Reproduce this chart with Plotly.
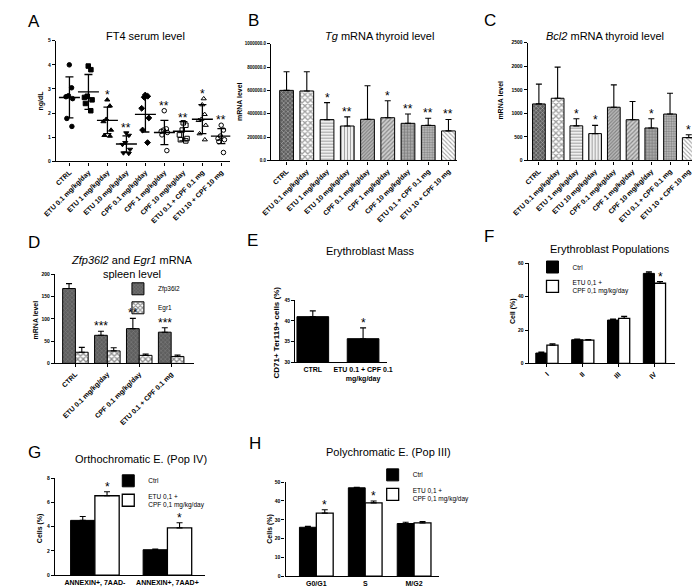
import plotly.graph_objects as go

W, H = 700, 588
FONT = "Arial, Liberation Sans, sans-serif"

# ---------------- data ----------------
treatments = ["CTRL", "ETU 0.1 mg/kg/day", "ETU 1 mg/kg/day", "ETU 10 mg/kg/day",
              "CPF 0.1 mg/kg/day", "CPF 1 mg/kg/day", "CPF 10 mg/kg/day",
              "ETU 0.1 + CPF 0.1 mg", "ETU 10 + CPF 10 mg"]

# A - FT4 serum level (ng/dL), one value per animal
ft4_points = [
    [4.0, 3.05, 2.72, 2.68, 2.6, 1.78, 1.45],
    [3.95, 3.8, 2.7, 2.65, 2.55, 2.4, 2.1],
    [2.55, 2.3, 1.75, 1.65, 1.3, 1.08, 1.05],
    [1.18, 1.08, 0.78, 0.7, 0.5, 0.35, 0.33],
    [2.75, 2.7, 2.65, 2.2, 1.8, 1.3, 0.78],
    [2.1, 1.35, 1.3, 1.25, 1.2, 1.1, 0.45],
    [1.6, 1.5, 1.3, 1.1, 0.95, 0.9, 0.85],
    [2.6, 2.35, 1.95, 1.75, 1.7, 1.5, 1.15, 0.9],
    [1.5, 1.3, 1.05, 0.95, 0.9, 0.82, 0.37],
]
ft4_mean = [2.65, 2.88, 1.7, 0.72, 1.95, 1.2, 1.25, 1.75, 1.05]
ft4_sd = [0.85, 0.72, 0.55, 0.34, 0.73, 0.5, 0.4, 0.6, 0.31]
ft4_stars = ["", "", "*", "**", "", "**", "**", "*", "**"]
ft4_symbols = ["circle", "square", "triangle-up", "triangle-down", "diamond",
               "circle-open", "square-open", "triangle-up-open", "circle-open"]

# B - Tg mRNA thyroid level
tg_mean = [600000, 595000, 350000, 295000, 352000, 366000, 318000, 300000, 253000]
tg_sd = [160000, 165000, 145000, 78000, 288000, 145000, 80000, 62000, 98000]
tg_stars = ["", "", "*", "**", "", "*", "**", "**", "**"]

# C - Bcl2 mRNA thyroid level
bcl2_mean = [1200, 1320, 735, 570, 1130, 865, 690, 985, 485]
bcl2_sd = [420, 660, 150, 175, 475, 385, 195, 440, 60]
bcl2_stars = ["", "", "*", "*", "", "", "*", "", "*"]

# D - Zfp36l2 / Egr1 mRNA spleen level
spleen_groups = ["CTRL", "ETU 0.1 mg/kg/day", "CPF 0.1 mg/kg/day", "ETU 0.1 + CPF 0.1 mg"]
zfp_mean = [168, 63, 78, 70]
zfp_sd = [11, 9, 23, 10]
zfp_stars = ["", "***", "**", "***"]
egr_mean = [25, 28, 18, 15.5]
egr_sd = [11, 7, 3, 3]

# E - Erythroblast mass
mass_groups = ["CTRL", "ETU 0.1 + CPF 0.1<br>mg/kg/day"]
mass_mean = [41.0, 35.7]
mass_sd = [1.4, 2.6]
mass_stars = ["", "*"]

# F - Erythroblast populations
pop_groups = ["I", "II", "III", "IV"]
pop_ctrl = [6.2, 14.2, 26.0, 54.0]
pop_ctrl_sd = [0.6, 0.4, 0.6, 0.9]
pop_mix = [10.9, 14.0, 27.0, 48.1]
pop_mix_sd = [0.8, 0.3, 1.2, 1.0]
pop_stars = ["", "", "", "*"]

# G - Orthochromatic E. (Pop IV)
apo_groups = ["ANNEXIN+, 7AAD-", "ANNEXIN+, 7AAD+"]
apo_ctrl = [4.52, 2.1]
apo_ctrl_sd = [0.32, 0.05]
apo_mix = [6.55, 3.9]
apo_mix_sd = [0.33, 0.42]
apo_stars = ["*", "*"]

# H - Polychromatic E. (Pop III)
cycle_groups = ["G0/G1", "S", "M/G2"]
cycle_ctrl = [26.0, 47.0, 28.0]
cycle_ctrl_sd = [0.5, 0.3, 0.7]
cycle_mix = [33.5, 39.0, 28.3]
cycle_mix_sd = [1.8, 1.0, 0.7]
cycle_stars = ["*", "*", ""]

# Prism-like hatch fills, one per treatment
fill_shape = ["x", "x", "-", "|", "/", "/", "+", ".", "\\"]
fill_fg = ["#9a9a9a", "#1a1a1a", "#6a6a6a", "#6a6a6a", "#777777", "#6e6e6e", "#2a2a2a", "#606060", "#8a8a8a"]
fill_bg = ["#5e5e5e", "#ffffff", "#ffffff", "#ffffff", "#bdbdbd", "#cfcfcf", "#a8a8a8", "#c4c4c4", "#ffffff"]
fill_size = [3, 4, 3, 3, 2.5, 3, 3, 2.5, 3]
fill_sol = [0.35, 0.55, 0.45, 0.45, 0.45, 0.4, 0.35, 0.5, 0.35]


def px(x):
    return x / W


def py(y):
    return 1 - y / H


def up_err(sd):
    # Prism style: only the upper half of the SD bar
    return dict(type="data", symmetric=False, array=sd, arrayminus=[0] * len(sd),
                width=3, thickness=1.1, color="black")


fig = go.Figure()

# ── A: scatter dot plot ──
for name, pts, sym in zip(treatments, ft4_points, ft4_symbols):
    fig.add_trace(go.Box(
        x=[name] * len(pts), y=pts, xaxis="x", yaxis="y",
        boxpoints="all", jitter=0.9, pointpos=0, width=0.55,
        fillcolor="rgba(0,0,0,0)", line=dict(width=0, color="rgba(0,0,0,0)"),
        marker=dict(symbol=sym, size=4.5, color="black", line=dict(width=1, color="black")),
        showlegend=False,
    ))
fig.add_trace(go.Scatter(
    x=treatments, y=ft4_mean, mode="markers", xaxis="x", yaxis="y",
    marker=dict(symbol="line-ew", size=15, color="black", line=dict(width=1.4, color="black")),
    error_y=dict(type="data", array=ft4_sd, width=4, thickness=1.3, color="black"),
    showlegend=False,
))

# ── B, C: hatched bars ──
for vals, sd, ax in [(tg_mean, tg_sd, "2"), (bcl2_mean, bcl2_sd, "3")]:
    fig.add_trace(go.Bar(
        x=treatments, y=vals, width=0.68, xaxis="x" + ax, yaxis="y" + ax,
        marker=dict(color=fill_bg, line=dict(color="black", width=1),
                    pattern=dict(shape=fill_shape, fgcolor=fill_fg, bgcolor=fill_bg,
                                 size=fill_size, solidity=fill_sol)),
        error_y=up_err(sd), showlegend=False,
    ))

# ── D: two genes side by side ──
d_w = 0.4
fig.add_trace(go.Bar(
    x=spleen_groups, y=zfp_mean, width=d_w, offset=-d_w, xaxis="x4", yaxis="y4",
    name="Zfp36l2", legend="legend",
    marker=dict(color=fill_bg[0], line=dict(color="black", width=1),
                pattern=dict(shape="x", fgcolor=fill_fg[0], bgcolor=fill_bg[0], size=3, solidity=0.35)),
    error_y=up_err(zfp_sd),
))
fig.add_trace(go.Bar(
    x=spleen_groups, y=egr_mean, width=d_w, offset=0, xaxis="x4", yaxis="y4",
    name="Egr1", legend="legend",
    marker=dict(color="white", line=dict(color="black", width=1),
                pattern=dict(shape="x", fgcolor="#1a1a1a", bgcolor="white", size=4, solidity=0.55)),
    error_y=up_err(egr_sd),
))

# ── E: erythroblast mass ──
fig.add_trace(go.Bar(
    x=mass_groups, y=mass_mean, width=0.63, xaxis="x5", yaxis="y5",
    marker=dict(color="black", line=dict(color="black", width=1)),
    error_y=up_err(mass_sd), showlegend=False,
))

# ── F, G, H: Ctrl vs ETU+CPF ──
pair_panels = [
    ("6", "legend2", pop_groups, pop_ctrl, pop_ctrl_sd, pop_mix, pop_mix_sd, 0.31, pop_stars),
    ("7", "legend3", apo_groups, apo_ctrl, apo_ctrl_sd, apo_mix, apo_mix_sd, 0.335, apo_stars),
    ("8", "legend4", cycle_groups, cycle_ctrl, cycle_ctrl_sd, cycle_mix, cycle_mix_sd, 0.345, cycle_stars),
]
for ax, leg, cats, ctrl, ctrl_sd, mix, mix_sd, w, _ in pair_panels:
    fig.add_trace(go.Bar(
        x=cats, y=ctrl, width=w, offset=-w, xaxis="x" + ax, yaxis="y" + ax,
        name="Ctrl", legend=leg,
        marker=dict(color="black", line=dict(color="black", width=1)),
        error_y=up_err(ctrl_sd),
    ))
    fig.add_trace(go.Bar(
        x=cats, y=mix, width=w, offset=0, xaxis="x" + ax, yaxis="y" + ax,
        name="ETU 0,1 +<br>CPF 0,1 mg/kg/day", legend=leg,
        marker=dict(color="white", line=dict(color="black", width=1.3)),
        error_y=up_err(mix_sd),
    ))

# ── Axes ──
panels = [
    # suffix, plot box (left, right, top, bottom) in px, x range, y range, dtick, tick angle, x ticks
    ("", (33, 213, 30, 152), [-0.71, 8.47], [0, 5], 1, -45, "outside"),
    ("2", (255, 447, 33, 151), [-0.77, 8.42], [0, 1000000], 200000, -45, "outside"),
    ("3", (520, 696, 32, 151), [-0.6, 8.5], [0, 2500], 500, -45, "outside"),
    ("4", (32, 175, 266, 356), [-0.64, 3.7], [0, 200], 50, -45, "outside"),
    ("5", (280, 375, 292, 355), [-0.35, 1.48], [30, 45], 5, 0, ""),
    ("6", (521, 672, 255, 356), [-0.51, 3.57], [0, 60], 20, -45, "outside"),
    ("7", (32, 187, 472, 570), [-0.55, 1.52], [0, 8], 2, 0, ""),
    ("8", (270, 428, 476, 571), [-0.63, 2.5], [0, 50], 10, 0, ""),
]
axis_common = dict(showline=True, linecolor="black", linewidth=1.2,
                   ticklen=3, tickwidth=1, tickcolor="black", showgrid=False,
                   zeroline=False, fixedrange=True)
layout_axes = {}
for sfx, (l, r, t, b), xr, yr, dt, ang, xticks in panels:
    layout_axes["xaxis" + sfx] = dict(
        axis_common, domain=[px(l), px(r)], range=xr, anchor="y" + sfx, type="category",
        ticks=xticks, tickangle=ang, tickfont=dict(family=FONT, size=7, color="black", weight="bold"))
    layout_axes["yaxis" + sfx] = dict(
        axis_common, domain=[py(b), py(t)], range=yr, dtick=dt, anchor="x" + sfx, ticks="outside",
        tickfont=dict(family=FONT, size=5, color="black", weight="bold"))
layout_axes["yaxis2"]["tickformat"] = ".1f"
layout_axes["yaxis2"]["tickfont"]["size"] = 4.5


# ── Text: panel letters, titles, axis titles, significance stars ──
def note(text, x, y, size, **kw):
    return dict(text=text, x=px(x), y=py(y), xref="paper", yref="paper", showarrow=False,
                font=dict(family=FONT, size=size, color="black"), **kw)


annotations = []
for letter, x, y in [("A", 2, 11), ("B", 229, 10), ("C", 473, 10), ("D", 2, 234),
                     ("E", 228, 232), ("F", 473, 228), ("G", 2, 446), ("H", 230, 437)]:
    annotations.append(note(letter, x, y, 17, xanchor="left", yanchor="middle"))

for title, x, y in [("FT4 serum level", 125, 25),
                    ("<i>Tg</i> mRNA thyroid level", 367, 25),
                    ("<i>Bcl2</i> mRNA thyroid level", 600, 25),
                    ("<i>Zfp36l2</i> and <i>Egr1</i> mRNA<br>spleen level", 112, 259),
                    ("Erythroblast Mass", 358, 242),
                    ("Erythroblast Populations", 605, 240),
                    ("Orthochromatic E. (Pop IV)", 121, 453),
                    ("Polychromatic E. (Pop III)", 376, 446)]:
    annotations.append(note(title, x, y, 11, xanchor="center", yanchor="middle"))

for title, x, y, fs in [("ng/dL", 18, 90, 7), ("mRNA level", 222, 92, 7), ("mRNA level", 492, 90, 7),
                        ("mRNA level", 12, 312, 7), ("CD71+ Ter119+ cells (%)", 261, 325, 8),
                        ("Cell (%)", 505, 303, 7), ("Cells (%)", 16, 522, 7), ("Cells (%)", 254, 523, 7)]:
    a = note("<b>%s</b>" % title, x, y, fs, xanchor="center", yanchor="middle", textangle=-90)
    annotations.append(a)


def stars(ax, xs, tops, marks, size=12):
    for x, top, s in zip(xs, tops, marks):
        if s:
            annotations.append(dict(text=s, x=x, y=top, xref="x" + ax, yref="y" + ax,
                                    showarrow=False, yanchor="bottom", yshift=-4,
                                    font=dict(family=FONT, size=size, color="black")))


stars("", list(range(9)), [max(p) for p in ft4_points], ft4_stars)
stars("2", list(range(9)), [m + s for m, s in zip(tg_mean, tg_sd)], tg_stars)
stars("3", list(range(9)), [m + s for m, s in zip(bcl2_mean, bcl2_sd)], bcl2_stars)
stars("4", [i - d_w / 2 for i in range(4)], [m + s for m, s in zip(zfp_mean, zfp_sd)], zfp_stars)
stars("5", [0, 1], [m + s for m, s in zip(mass_mean, mass_sd)], mass_stars)
for ax, leg, cats, ctrl, ctrl_sd, mix, mix_sd, w, marks in pair_panels:
    stars(ax, [i + w / 2 for i in range(len(cats))], [m + s for m, s in zip(mix, mix_sd)], marks)

legend_font = dict(family=FONT, size=6.5, color="black")
legends = {}
for key, x, y in [("legend", 97, 266), ("legend2", 525, 244),
                  ("legend3", 87, 460), ("legend4", 360, 454)]:
    legends[key] = dict(x=px(x), y=py(y), xanchor="left", yanchor="top", font=legend_font,
                        bgcolor="rgba(0,0,0,0)", borderwidth=0, tracegroupgap=0)

fig.update_layout(
    width=W, height=H, autosize=False,
    margin=dict(l=0, r=0, t=0, b=0),
    paper_bgcolor="white", plot_bgcolor="white",
    font=dict(family=FONT, color="black"),
    barmode="overlay", boxmode="overlay", hovermode=False,
    annotations=annotations,
    **layout_axes, **legends,
)

fig.write_html("out.html")
